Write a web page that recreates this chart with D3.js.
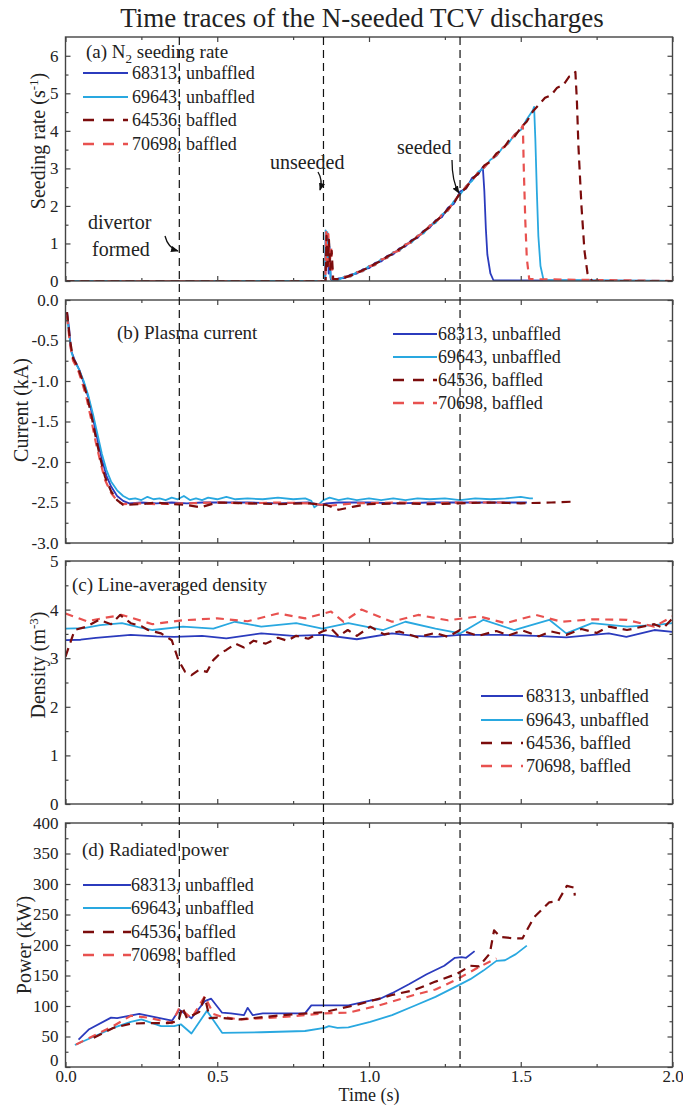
<!DOCTYPE html>
<html>
<head>
<meta charset="utf-8">
<script src="https://d3js.org/d3.v7.min.js"></script>
<style>
  body { margin: 0; background: #fff; }
  text { font-family: "Liberation Serif", "Times New Roman", serif; fill: #222; }
</style>
</head>
<body>
<div id="chart"></div>
<script>
// ---- data ----
var seriesNames = ["68313, unbaffled", "69643, unbaffled", "64536, baffled", "70698, baffled"];
var markerTimes = [0.375, 0.85, 1.30];
var timeTicks = [0.0, 0.5, 1.0, 1.5, 2.0];

// (a) N2 seeding rate
var seed68313 = [[0,0],[0.856,0],[0.858,1.32],[0.861,0.4],[0.864,1.2],[0.867,0.2],[0.870,0.9],[0.874,0.05],[0.88,0.0],[0.90,0.07],[0.92,0.08],[0.94,0.17],[0.96,0.20],[0.98,0.31],[1.00,0.34],[1.02,0.48],[1.04,0.52],[1.06,0.67],[1.08,0.71],[1.10,0.87],[1.12,0.92],[1.14,1.09],[1.16,1.15],[1.18,1.34],[1.20,1.42],[1.22,1.62],[1.24,1.70],[1.26,1.95],[1.28,2.06],[1.30,2.38],[1.32,2.46],[1.34,2.75],[1.36,2.84],[1.375,3.04],[1.38,2.4],[1.385,1.4],[1.39,0.7],[1.40,0.2],[1.41,0.02],[2.0,0]];
var seed69643 = [[0,0],[0.855,0],[0.857,1.35],[0.860,0.6],[0.863,1.3],[0.866,0.5],[0.869,1.0],[0.873,0.1],[0.88,0.0],[0.90,0.03],[0.92,0.12],[0.94,0.12],[0.96,0.24],[0.98,0.26],[1.00,0.40],[1.02,0.42],[1.04,0.58],[1.06,0.61],[1.08,0.77],[1.10,0.80],[1.12,0.98],[1.14,1.02],[1.16,1.21],[1.18,1.27],[1.20,1.48],[1.22,1.55],[1.24,1.77],[1.26,1.87],[1.28,2.13],[1.30,2.30],[1.32,2.53],[1.34,2.67],[1.36,2.91],[1.38,3.02],[1.40,3.23],[1.42,3.33],[1.44,3.55],[1.46,3.67],[1.48,3.91],[1.50,4.02],[1.52,4.31],[1.54,4.55],[1.544,4.64],[1.548,3.8],[1.553,2.4],[1.558,1.2],[1.565,0.4],[1.575,0.03],[2.0,0]];
var seed64536 = [[0,0],[0.857,0],[0.860,1.2],[0.864,0.4],[0.868,1.1],[0.872,0.3],[0.877,0.8],[0.882,0.05],[0.90,0.05],[0.92,0.09],[0.94,0.15],[0.96,0.21],[0.98,0.29],[1.00,0.36],[1.02,0.46],[1.04,0.54],[1.06,0.65],[1.08,0.73],[1.10,0.85],[1.12,0.94],[1.14,1.07],[1.16,1.17],[1.18,1.32],[1.20,1.44],[1.22,1.60],[1.24,1.72],[1.26,1.92],[1.28,2.08],[1.30,2.35],[1.32,2.48],[1.34,2.72],[1.36,2.86],[1.38,3.08],[1.40,3.18],[1.42,3.40],[1.44,3.50],[1.46,3.73],[1.48,3.85],[1.50,4.08],[1.52,4.25],[1.54,4.52],[1.56,4.70],[1.58,4.88],[1.60,4.95],[1.62,5.15],[1.64,5.22],[1.66,5.45],[1.675,5.50],[1.68,5.57],[1.685,4.8],[1.69,3.6],[1.70,2.0],[1.71,0.8],[1.72,0.2],[1.735,0],[2.0,0]];
var seed70698 = [[0,0],[0.856,0],[0.859,1.3],[0.862,0.3],[0.866,1.25],[0.870,0.4],[0.875,0.9],[0.88,0.05],[0.90,0.05],[0.92,0.11],[0.94,0.13],[0.96,0.23],[0.98,0.27],[1.00,0.39],[1.02,0.43],[1.04,0.57],[1.06,0.62],[1.08,0.76],[1.10,0.81],[1.12,0.97],[1.14,1.03],[1.16,1.20],[1.18,1.28],[1.20,1.47],[1.22,1.56],[1.24,1.76],[1.26,1.88],[1.28,2.12],[1.30,2.32],[1.32,2.52],[1.34,2.68],[1.36,2.90],[1.38,3.03],[1.40,3.22],[1.42,3.35],[1.44,3.54],[1.46,3.68],[1.48,3.90],[1.50,4.03],[1.507,4.15],[1.51,3.0],[1.515,1.6],[1.52,0.6],[1.528,0.05],[2.0,0]];

// (b) plasma current
var cur68313 = [[0.005,-0.15],[0.012,-0.35],[0.018,-0.62],[0.03,-0.74],[0.045,-0.86],[0.06,-1.02],[0.075,-1.2],[0.09,-1.45],[0.105,-1.72],[0.12,-1.97],[0.135,-2.17],[0.15,-2.3],[0.17,-2.42],[0.19,-2.48],[0.21,-2.51],[0.25,-2.5],[0.3,-2.51],[0.35,-2.5],[0.4,-2.51],[0.45,-2.5],[0.5,-2.5],[0.6,-2.5],[0.7,-2.51],[0.8,-2.5],[0.84,-2.53],[0.86,-2.51],[0.9,-2.5],[1.0,-2.5],[1.1,-2.51],[1.2,-2.5],[1.3,-2.5],[1.4,-2.5],[1.52,-2.5]];
var cur69643 = [[0.005,-0.2],[0.012,-0.42],[0.02,-0.65],[0.03,-0.76],[0.045,-0.86],[0.06,-1.0],[0.075,-1.18],[0.09,-1.4],[0.105,-1.65],[0.12,-1.9],[0.135,-2.1],[0.15,-2.24],[0.17,-2.35],[0.19,-2.42],[0.21,-2.46],[0.23,-2.45],[0.25,-2.47],[0.27,-2.43],[0.29,-2.46],[0.31,-2.45],[0.33,-2.47],[0.35,-2.44],[0.37,-2.46],[0.39,-2.42],[0.41,-2.47],[0.43,-2.45],[0.45,-2.47],[0.47,-2.44],[0.5,-2.46],[0.53,-2.43],[0.56,-2.46],[0.6,-2.45],[0.65,-2.46],[0.7,-2.44],[0.75,-2.46],[0.79,-2.45],[0.81,-2.48],[0.82,-2.56],[0.835,-2.52],[0.85,-2.47],[0.87,-2.44],[0.9,-2.47],[0.93,-2.45],[0.96,-2.47],[1.0,-2.45],[1.04,-2.47],[1.08,-2.45],[1.12,-2.47],[1.16,-2.45],[1.2,-2.46],[1.25,-2.45],[1.3,-2.47],[1.35,-2.45],[1.4,-2.46],[1.45,-2.45],[1.5,-2.43],[1.53,-2.45],[1.54,-2.45]];
var cur64536 = [[0.005,-0.15],[0.015,-0.5],[0.025,-0.72],[0.04,-0.82],[0.055,-0.98],[0.07,-1.17],[0.085,-1.42],[0.1,-1.7],[0.115,-1.96],[0.13,-2.18],[0.15,-2.36],[0.17,-2.47],[0.19,-2.53],[0.25,-2.52],[0.3,-2.5],[0.35,-2.52],[0.4,-2.53],[0.445,-2.56],[0.5,-2.5],[0.6,-2.51],[0.7,-2.52],[0.8,-2.51],[0.86,-2.53],[0.9,-2.59],[0.95,-2.55],[1.0,-2.52],[1.1,-2.51],[1.2,-2.52],[1.3,-2.51],[1.4,-2.5],[1.5,-2.51],[1.6,-2.5],[1.67,-2.49]];
var cur70698 = [[0.005,-0.2],[0.015,-0.55],[0.025,-0.75],[0.04,-0.85],[0.055,-1.02],[0.07,-1.22],[0.085,-1.48],[0.1,-1.76],[0.115,-2.0],[0.13,-2.22],[0.15,-2.38],[0.17,-2.48],[0.19,-2.52],[0.25,-2.51],[0.3,-2.52],[0.4,-2.51],[0.5,-2.5],[0.6,-2.51],[0.7,-2.5],[0.8,-2.51],[0.87,-2.54],[0.95,-2.51],[1.1,-2.5],[1.2,-2.51],[1.3,-2.5],[1.45,-2.5]];

// (c) line-averaged density
var den68313 = [[0,3.37],[0.05,3.38],[0.1,3.42],[0.215,3.48],[0.3,3.45],[0.358,3.44],[0.45,3.46],[0.53,3.41],[0.645,3.51],[0.75,3.46],[0.85,3.48],[0.96,3.39],[1.076,3.51],[1.15,3.46],[1.219,3.44],[1.3,3.48],[1.432,3.48],[1.55,3.46],[1.65,3.43],[1.79,3.51],[1.848,3.44],[1.94,3.58],[2.0,3.54]];
var den69643 = [[0,3.61],[0.06,3.62],[0.114,3.68],[0.186,3.72],[0.24,3.64],[0.287,3.58],[0.387,3.65],[0.487,3.61],[0.558,3.75],[0.645,3.65],[0.76,3.72],[0.846,3.61],[0.932,3.72],[1.047,3.58],[1.12,3.75],[1.219,3.61],[1.3,3.51],[1.377,3.79],[1.478,3.58],[1.594,3.79],[1.65,3.51],[1.735,3.72],[1.85,3.65],[1.94,3.68],[2.0,3.72]];
var den64536 = [[0,3.03],[0.03,3.58],[0.07,3.65],[0.11,3.79],[0.15,3.70],[0.18,3.89],[0.215,3.72],[0.25,3.66],[0.272,3.58],[0.315,3.51],[0.35,3.37],[0.372,2.96],[0.394,2.72],[0.415,2.65],[0.44,2.76],[0.466,2.72],[0.487,2.96],[0.51,3.10],[0.53,3.17],[0.56,3.30],[0.588,3.22],[0.62,3.36],[0.66,3.30],[0.7,3.42],[0.73,3.36],[0.76,3.46],[0.8,3.40],[0.846,3.55],[0.875,3.61],[0.9,3.45],[0.93,3.58],[0.96,3.46],[1.004,3.65],[1.05,3.49],[1.1,3.55],[1.16,3.43],[1.219,3.52],[1.26,3.44],[1.3,3.58],[1.36,3.46],[1.42,3.56],[1.46,3.47],[1.506,3.57],[1.56,3.45],[1.6,3.55],[1.65,3.48],[1.7,3.60],[1.75,3.52],[1.79,3.65],[1.85,3.58],[1.94,3.70],[1.97,3.62],[2.0,3.82]];
var den70698 = [[0,3.92],[0.07,3.76],[0.12,3.82],[0.186,3.89],[0.287,3.70],[0.387,3.78],[0.5,3.82],[0.6,3.76],[0.7,3.92],[0.79,3.82],[0.875,3.96],[0.916,3.75],[0.975,4.0],[1.076,3.75],[1.162,3.89],[1.26,3.78],[1.363,3.86],[1.45,3.72],[1.55,3.89],[1.635,3.75],[1.735,3.80],[1.85,3.79],[1.94,3.65],[2.0,3.86]];

// (d) radiated power
var pow68313 = [[0.043,45],[0.078,62],[0.15,81],[0.17,80],[0.243,87],[0.351,76],[0.375,94],[0.415,80],[0.459,108],[0.48,112],[0.516,89],[0.545,88],[0.588,85],[0.6,97],[0.617,85],[0.65,88],[0.789,88],[0.81,101],[0.889,101],[0.932,101],[1.004,109],[1.033,111],[1.076,121],[1.133,136],[1.19,152],[1.248,166],[1.283,179],[1.305,180],[1.32,179],[1.348,190]];
var pow69643 = [[0.031,36],[0.157,64],[0.215,74],[0.25,78],[0.315,67],[0.358,67],[0.38,70],[0.415,55],[0.466,92],[0.516,56],[0.645,57],[0.789,59],[0.853,64],[0.868,67],[0.896,64],[0.932,65],[1.004,74],[1.076,85],[1.148,100],[1.219,115],[1.291,133],[1.334,144],[1.377,158],[1.42,174],[1.448,175],[1.484,185],[1.52,199]];
var pow64536 = [[0.093,48],[0.157,64],[0.215,71],[0.272,72],[0.337,72],[0.372,75],[0.385,98],[0.40,80],[0.44,90],[0.459,115],[0.475,80],[0.50,81],[0.574,78],[0.717,85],[0.853,90],[0.96,102],[1.076,118],[1.148,126],[1.219,140],[1.291,153],[1.334,166],[1.363,165],[1.398,186],[1.412,224],[1.434,213],[1.477,211],[1.506,211],[1.543,245],[1.594,270],[1.623,272],[1.652,297],[1.676,294],[1.678,281]];
var pow70698 = [[0.035,37],[0.157,67],[0.215,84],[0.272,81],[0.351,72],[0.375,97],[0.415,80],[0.459,116],[0.487,87],[0.516,82],[0.574,78],[0.717,82],[0.853,88],[0.932,89],[1.033,101],[1.148,118],[1.219,127],[1.291,144],[1.363,164],[1.42,178]];

// ---- styling ----
var colors = ["#2b3bbd", "#29a8e0", "#7b0c0c", "#e8514f"];
var dashes = [null, null, "9,6", "8,6"];
var widths = [1.8, 1.8, 2.2, 2.2];
var serif = '"Liberation Serif", "Times New Roman", serif';

var W = 683, H = 1106;
var L = 65.5, R = 672.5;

var svg = d3.select("#chart").append("svg")
  .attr("width", W).attr("height", H);

svg.append("rect").attr("width", W).attr("height", H).attr("fill", "#fff");

var x = d3.scaleLinear().domain([0, 2]).range([L, R]);

var defs = svg.append("defs");
defs.append("marker").attr("id", "arrow")
  .attr("viewBox", "0 0 10 10").attr("refX", 9).attr("refY", 5)
  .attr("markerWidth", 6).attr("markerHeight", 6).attr("orient", "auto")
  .append("path").attr("d", "M0,1 L10,5 L0,9 Z").attr("fill", "#111");

// title
svg.append("text")
  .attr("x", 362).attr("y", 27)
  .attr("text-anchor", "middle")
  .style("font-size", "27px")
  .text("Time traces of the N-seeded TCV discharges");

var panels = [
  {top: 37, bottom: 281, domain: [0, 6.5], major: d3.range(0, 6.01, 1), minor: d3.range(0.5, 6.5, 1),
   fmt: function(v){ return v.toFixed(0); }, data: [seed68313, seed69643, seed64536, seed70698],
   ylab: ["Seeding rate (s", "-1", ")"], ylabX: 45, ylabY: 141,
   title: "(a) N", sub: "2", titleRest: " seeding rate", titleX: 86, titleY: 58,
   legend: {x1: 83, x2: 128, tx: 132, y: [73, 97, 120, 144]}},
  {top: 300, bottom: 543, domain: [-3, 0], major: d3.range(-3, 0.01, 0.5), minor: d3.range(-2.75, 0, 0.5),
   fmt: function(v){ return v.toFixed(1); }, data: [cur68313, cur69643, cur64536, cur70698],
   ylab: ["Current (kA)"], ylabX: 28, ylabY: 410,
   title: "(b) Plasma current", titleX: 117, titleY: 339,
   legend: {x1: 393, x2: 437, tx: 438, y: [334, 357, 380, 403]}},
  {top: 561, bottom: 804, domain: [0, 5], major: d3.range(0, 5.01, 1), minor: d3.range(0.5, 5, 1),
   fmt: function(v){ return v.toFixed(0); }, data: [den68313, den69643, den64536, den70698],
   ylab: ["Density (m", "-3", ")"], ylabX: 45, ylabY: 665,
   title: "(c) Line-averaged density", titleX: 72, titleY: 591,
   legend: {x1: 481, x2: 523, tx: 526, y: [696, 720, 743, 766]}},
  {top: 823, bottom: 1067, domain: [0, 400], major: d3.range(0, 401, 50), minor: d3.range(25, 400, 50),
   fmt: function(v){ return v.toFixed(0); }, data: [pow68313, pow69643, pow64536, pow70698],
   ylab: ["Power (kW)"], ylabX: 31, ylabY: 945,
   title: "(d) Radiated power", titleX: 82, titleY: 856,
   legend: {x1: 83, x2: 131, tx: 131, y: [885, 908, 932, 955]}}
];

var xMajor = d3.range(0, 2.01, 0.5);
var xMinor = d3.range(0.25, 2, 0.5);

panels.forEach(function(p, i) {
  var y = d3.scaleLinear().domain(p.domain).range([p.bottom, p.top]);
  var g = svg.append("g");

  // series
  var line = d3.line().x(function(d){ return x(d[0]); }).y(function(d){ return y(d[1]); });
  var clipId = "clip" + i;
  defs.append("clipPath").attr("id", clipId).append("rect")
    .attr("x", L).attr("y", p.top).attr("width", R - L).attr("height", p.bottom - p.top);
  var order = [0, 1, 3, 2];
  order.forEach(function(k) {
    g.append("path")
      .attr("d", line(p.data[k]))
      .attr("clip-path", "url(#" + clipId + ")")
      .attr("fill", "none")
      .attr("stroke", colors[k])
      .attr("stroke-width", widths[k])
      .attr("stroke-dasharray", dashes[k])
      .attr("stroke-linejoin", "round");
  });

  // axes, ticks inward
  var axCol = "#444";
  function styleAxis(sel) {
    sel.attr("font-family", serif).attr("font-size", 17);
    sel.select(".domain").remove();
    sel.selectAll("line").attr("stroke", axCol).attr("stroke-width", 1.2);
    sel.selectAll("text").style("font-size", "17px").style("font-family", serif).attr("fill", "#222");
  }
  var bottomYLabel = (i === panels.length - 1);
  g.append("g").attr("transform", "translate(" + L + ",0)")
    .call(d3.axisLeft(y).tickValues(p.major).tickSize(-5).tickPadding(7).tickFormat(p.fmt)).call(styleAxis)
    .selectAll("text").attr("dy", function(d){ return (bottomYLabel && d === 0) ? "-0.1em" : "0.32em"; });
  g.append("g").attr("transform", "translate(" + L + ",0)")
    .call(d3.axisLeft(y).tickValues(p.minor).tickSize(-3).tickFormat("")).call(styleAxis);
  g.append("g").attr("transform", "translate(" + R + ",0)")
    .call(d3.axisRight(y).tickValues(p.major).tickSize(-5).tickFormat("")).call(styleAxis);
  g.append("g").attr("transform", "translate(" + R + ",0)")
    .call(d3.axisRight(y).tickValues(p.minor).tickSize(-3).tickFormat("")).call(styleAxis);
  g.append("g").attr("transform", "translate(0," + p.top + ")")
    .call(d3.axisTop(x).tickValues(xMajor).tickSize(-5).tickFormat("")).call(styleAxis);
  g.append("g").attr("transform", "translate(0," + p.top + ")")
    .call(d3.axisTop(x).tickValues(xMinor).tickSize(-3).tickFormat("")).call(styleAxis);
  var isLast = (i === panels.length - 1);
  g.append("g").attr("transform", "translate(0," + p.bottom + ")")
    .call(d3.axisBottom(x).tickValues(isLast ? timeTicks : xMajor).tickSize(-5).tickPadding(3)
      .tickFormat(isLast ? function(v){ return v.toFixed(1); } : "")).call(styleAxis);
  g.append("g").attr("transform", "translate(0," + p.bottom + ")")
    .call(d3.axisBottom(x).tickValues(xMinor).tickSize(-3).tickFormat("")).call(styleAxis);

  // frame
  g.append("rect")
    .attr("x", L).attr("y", p.top).attr("width", R - L).attr("height", p.bottom - p.top)
    .attr("fill", "none").attr("stroke", "#444").attr("stroke-width", 1.4);

  // y label
  var yl = g.append("text")
    .attr("transform", "translate(" + p.ylabX + "," + p.ylabY + ") rotate(-90)")
    .attr("text-anchor", "middle")
    .style("font-size", "20px");
  yl.append("tspan").text(p.ylab[0]);
  if (p.ylab.length > 1) {
    yl.append("tspan").attr("dy", -7).style("font-size", "13px").text(p.ylab[1]);
    yl.append("tspan").attr("dy", 7).text(p.ylab[2]);
  }

  // panel title
  var t = g.append("text").attr("x", p.titleX).attr("y", p.titleY).style("font-size", "19px");
  t.append("tspan").text(p.title);
  if (p.sub) {
    t.append("tspan").attr("dy", 5).style("font-size", "13px").text(p.sub);
    t.append("tspan").attr("dy", -5).text(p.titleRest);
  }

  // legend
  seriesNames.forEach(function(name, k) {
    var ly = p.legend.y[k];
    g.append("line")
      .attr("x1", p.legend.x1).attr("x2", p.legend.x2).attr("y1", ly).attr("y2", ly)
      .attr("stroke", colors[k]).attr("stroke-width", widths[k] + 0.3)
      .attr("stroke-dasharray", k >= 2 ? "11,9" : null);
    g.append("text").attr("x", p.legend.tx).attr("y", ly + 6)
      .style("font-size", "18px").text(name);
  });
});

// vertical dashed marker lines through all panels
svg.append("g").selectAll("line").data(markerTimes).enter().append("line")
  .attr("x1", function(d){ return x(d); }).attr("x2", function(d){ return x(d); })
  .attr("y1", panels[0].top).attr("y2", panels[3].bottom)
  .attr("stroke", "#111").attr("stroke-width", 1.2).attr("stroke-dasharray", "8,5");

// x axis title
svg.append("text").attr("x", 369).attr("y", 1101).attr("text-anchor", "middle")
  .style("font-size", "18px").text("Time (s)");

// annotations in panel (a)
var ann = svg.append("g");
ann.append("text").attr("x", 88).attr("y", 229).style("font-size", "20px").text("divertor");
ann.append("text").attr("x", 92).attr("y", 256).style("font-size", "20px").text("formed");
ann.append("text").attr("x", 270).attr("y", 169).style("font-size", "20px").text("unseeded");
ann.append("text").attr("x", 397).attr("y", 154).style("font-size", "20px").text("seeded");

ann.append("path").attr("d", "M165,236 Q168,248 178,251")
  .attr("fill", "none").attr("stroke", "#111").attr("stroke-width", 1.3).attr("marker-end", "url(#arrow)");
ann.append("path").attr("d", "M318,172 Q323,180 320,190")
  .attr("fill", "none").attr("stroke", "#111").attr("stroke-width", 1.3).attr("marker-end", "url(#arrow)");
ann.append("path").attr("d", "M452,160 Q452,182 459,193")
  .attr("fill", "none").attr("stroke", "#111").attr("stroke-width", 1.3).attr("marker-end", "url(#arrow)");
</script>
</body>
</html>
